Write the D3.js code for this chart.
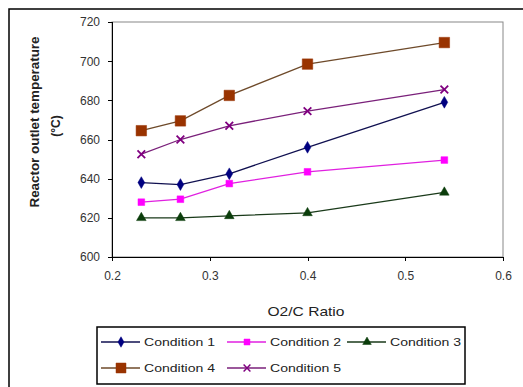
<script src='https://d3js.org/d3.v7.min.js'></script>
<style>
body {margin:0; background:#fff;}
text {font-family:'Liberation Sans', Arial, sans-serif; fill:#222;}
.axis path, .axis line {stroke:#000; stroke-width:1; shape-rendering:crispEdges;}
.axis text {font-size:12px; fill:#333;}
</style>
<body>
<svg id='chart' width='523' height='387'></svg>
<script>
var ratio=[0.23,0.27,0.32,0.40,0.54];
var cond1=[638,637,642.5,656,679];
var cond2=[628,629.5,637.5,643.5,649.5];
var cond3=[620,620,621,622.5,633];
var cond4=[664.5,669.5,682.5,698.5,709.5];
var cond5=[652.5,660,667,674.5,685.5];
var names=['Condition 1','Condition 2','Condition 3','Condition 4','Condition 5'];
var xTicks=[0.2,0.3,0.4,0.5,0.6];
var yTicks=[600,620,640,660,680,700,720];

var colors=['#000080','#ff00ff','#0b3d0b','#993300','#800080'];
var lineColors=['#101050','#e020e0','#1a3a1a','#6e4a2a','#7a207a'];
var shapes=[d3.symbolDiamond,d3.symbolSquare,d3.symbolTriangle,d3.symbolSquare,d3.symbolTimes];
var sizes=[40,45,40,110,40];
var series=[cond1,cond2,cond3,cond4,cond5];

var m={left:112,top:22,right:503,bottom:257};
var x=d3.scaleLinear().domain([0.2,0.6]).range([m.left,m.right]);
var y=d3.scaleLinear().domain([600,720]).range([m.bottom,m.top]);
var svg=d3.select('#chart');

// outer frame
svg.append('rect').attr('x',9).attr('y',9).attr('width',520).attr('height',390)
   .attr('fill','none').attr('stroke','#000').attr('stroke-width',1.5);
// plot border
svg.append('rect').attr('x',m.left).attr('y',m.top).attr('width',m.right-m.left).attr('height',m.bottom-m.top)
   .attr('fill','#fff').attr('stroke','#888').attr('stroke-width',1);

svg.append('g').attr('class','axis').attr('transform','translate(0,'+m.bottom+')')
   .call(d3.axisBottom(x).tickValues(xTicks).tickFormat(d3.format('.1f')).tickSizeOuter(0).tickSize(4).tickPadding(10));
svg.append('g').attr('class','axis').attr('transform','translate('+m.left+',0)')
   .call(d3.axisLeft(y).tickValues(yTicks).tickSizeOuter(0).tickSize(4).tickPadding(8));

// axis titles
svg.append('text').attr('transform','translate(39,122) rotate(-90)').attr('text-anchor','middle')
   .style('font-size','12px').style('font-weight','bold').attr('textLength',171).attr('lengthAdjust','spacingAndGlyphs')
   .text('Reactor outlet temperature');
svg.append('text').attr('transform','translate(60,126) rotate(-90)').attr('text-anchor','middle')
   .style('font-size','12px').style('font-weight','bold').text('(°C)');
svg.append('text').attr('x',306).attr('y',316).attr('text-anchor','middle')
   .style('font-size','13px').attr('textLength',77).attr('lengthAdjust','spacingAndGlyphs').text('O2/C Ratio');

var line=d3.line().x(function(d,i){return x(ratio[i])}).y(function(d){return y(d)});
series.forEach(function(s,k){
  svg.append('path').datum(s).attr('d',line).attr('fill','none')
     .attr('stroke',lineColors[k]).attr('stroke-width',1.3);
});
series.forEach(function(s,k){
  svg.selectAll('.pt'+k).data(s).enter().append('path').attr('class','pt'+k)
     .attr('d',d3.symbol().type(shapes[k]).size(sizes[k]))
     .attr('transform',function(d,i){return 'translate('+x(ratio[i])+','+y(d)+')'})
     .attr('fill',k==4?'none':colors[k]).attr('stroke',colors[k]).attr('stroke-width',k==4?1.8:0.5);
});

// legend
var lg=svg.append('g');
lg.append('rect').attr('x',97).attr('y',327).attr('width',368).attr('height',57)
  .attr('fill','#fff').attr('stroke','#000').attr('stroke-width',1.5);
var legPos=[[101,342],[227,342],[347,342],[101,368],[227,368]];
names.forEach(function(n,k){
  var p=legPos[k];
  lg.append('line').attr('x1',p[0]).attr('x2',p[0]+39).attr('y1',p[1]).attr('y2',p[1])
    .attr('stroke',lineColors[k]).attr('stroke-width',1.3);
  lg.append('path').attr('d',d3.symbol().type(shapes[k]).size(sizes[k]*(k==3?0.9:0.8)))
    .attr('transform','translate('+(p[0]+20)+','+p[1]+')')
    .attr('fill',k==4?'none':colors[k]).attr('stroke',colors[k]).attr('stroke-width',k==4?1.5:0.5);
  lg.append('text').attr('x',p[0]+43).attr('y',p[1]+4).style('font-size','11px')
    .attr('textLength',71).attr('lengthAdjust','spacingAndGlyphs').text(n);
});
</script>
</body>
